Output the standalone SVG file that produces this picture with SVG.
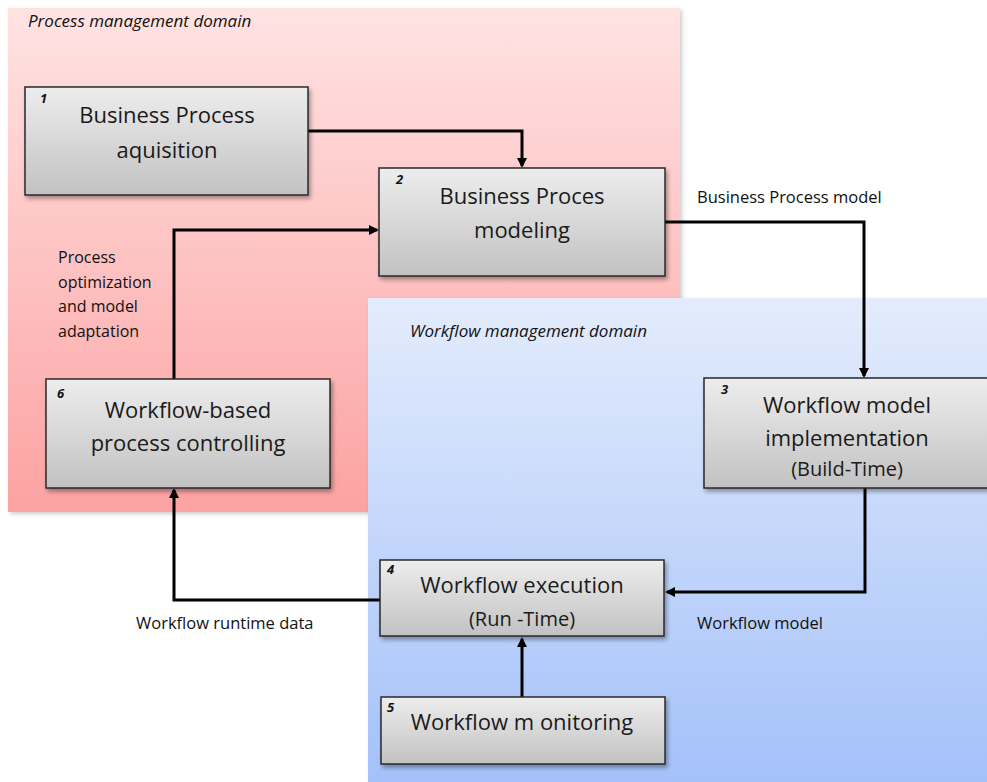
<svg xmlns="http://www.w3.org/2000/svg" width="987" height="782" viewBox="0 0 987 782">
<defs>
<linearGradient id="gPink" x1="0" y1="0" x2="0" y2="1">
<stop offset="0" stop-color="#ffe3e3"/>
<stop offset="1" stop-color="#fca2a2"/>
</linearGradient>
<linearGradient id="gBlue" x1="0" y1="0" x2="0" y2="1">
<stop offset="0" stop-color="#e3ecfc"/>
<stop offset="1" stop-color="#a4c1f9"/>
</linearGradient>
<linearGradient id="gBox" x1="0" y1="0" x2="0" y2="1">
<stop offset="0" stop-color="#ededed"/>
<stop offset="1" stop-color="#c2c2c2"/>
</linearGradient>
<filter id="sh" x="-10%" y="-10%" width="120%" height="130%">
<feDropShadow dx="2" dy="3" stdDeviation="2" flood-color="#000" flood-opacity="0.35"/>
</filter>
<filter id="shA" x="-5%" y="-5%" width="110%" height="110%">
<feDropShadow dx="2" dy="2" stdDeviation="2" flood-color="#000" flood-opacity="0.2"/>
</filter>
<marker id="arr" markerWidth="10" markerHeight="10" refX="8" refY="5" orient="auto" markerUnits="userSpaceOnUse">
<path d="M0,0 L10,5 L0,10 Z" fill="#000"/>
</marker>
<style>
.box{fill:url(#gBox);stroke:#2a2a2a;stroke-width:1.5;filter:url(#sh)}
.t{font-family:"Open Sans","Liberation Sans",sans-serif;font-size:22px;fill:#1a1a1a;text-anchor:middle}
.ts{font-family:"Open Sans","Liberation Sans",sans-serif;font-size:20px;fill:#1a1a1a;text-anchor:middle}
.n{font-family:"Open Sans","Liberation Sans",sans-serif;font-size:13px;font-weight:bold;font-style:italic;fill:#111}
.lbl{font-family:"Open Sans","Liberation Sans",sans-serif;font-size:16.5px;fill:#111}
.lb2{font-family:"Open Sans","Liberation Sans",sans-serif;font-size:16px;fill:#111}
.dom{font-family:"Open Sans","Liberation Sans",sans-serif;font-size:17px;font-style:italic;fill:#111}
.c{fill:none;stroke:#000;stroke-width:3;marker-end:url(#arr)}
</style>
</defs>
<rect width="987" height="782" fill="#fff"/>
<g id="process-domain">
<rect x="8" y="8" width="672" height="504" fill="url(#gPink)" filter="url(#shA)"/>
<text class="dom" x="28" y="27">Process management domain</text>
</g>
<g id="workflow-domain">
<rect x="368" y="298" width="619" height="484" fill="url(#gBlue)" filter="url(#shA)"/>
<text class="dom" x="410" y="337">Workflow management domain</text>
</g>
<g id="connectors">
<path class="c" d="M308,131 H522 V166"/>
<path class="c" d="M174,379 V230 H377"/>
<path class="c" d="M665,222 H864 V376"/>
<path class="c" d="M865,480 V592 H667"/>
<path class="c" d="M522,697 V639"/>
<path class="c" d="M380,600 H174 V490"/>
</g>
<g id="labels">
<text class="lbl" x="697" y="203">Business Process model</text>
<text class="lb2" x="58" y="263">Process</text>
<text class="lb2" x="58" y="288">optimization</text>
<text class="lb2" x="58" y="312">and model</text>
<text class="lb2" x="58" y="337">adaptation</text>
<text class="lbl" x="136" y="629">Workflow runtime data</text>
<text class="lbl" x="697" y="629">Workflow model</text>
</g>
<g id="node1">
<rect class="box" x="25" y="87" width="283" height="108"/>
<text class="n" x="40" y="103">1</text>
<text class="t" x="167" y="123">Business Process</text>
<text class="t" x="167" y="158">aquisition</text>
</g>
<g id="node2">
<rect class="box" x="379" y="168" width="286" height="108"/>
<text class="n" x="396" y="184">2</text>
<text class="t" x="522" y="204">Business Proces</text>
<text class="t" x="522" y="238">modeling</text>
</g>
<g id="node3">
<rect class="box" x="704" y="378" width="290" height="110"/>
<text class="n" x="721" y="394">3</text>
<text class="t" x="847" y="413">Workflow model</text>
<text class="t" x="847" y="446">implementation</text>
<text class="ts" x="847" y="476">(Build-Time)</text>
</g>
<g id="node4">
<rect class="box" x="380" y="560" width="284" height="76"/>
<text class="n" x="387" y="574">4</text>
<text class="t" x="522" y="593">Workflow execution</text>
<text class="ts" x="522" y="626">(Run -Time)</text>
</g>
<g id="node5">
<rect class="box" x="381" y="697" width="284" height="67"/>
<text class="n" x="387" y="712">5</text>
<text class="t" x="522" y="730">Workflow m onitoring</text>
</g>
<g id="node6">
<rect class="box" x="46" y="379" width="284" height="109"/>
<text class="n" x="57" y="398">6</text>
<text class="t" x="188" y="418">Workflow-based</text>
<text class="t" x="188" y="451">process controlling</text>
</g>
</svg>
